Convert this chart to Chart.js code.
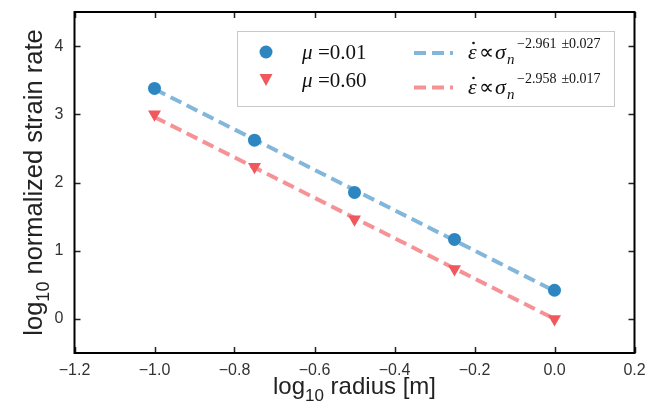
<!DOCTYPE html>
<html>
<head>
<meta charset="utf-8">
<script src="https://cdn.jsdelivr.net/npm/chart.js@4.4.1/dist/chart.umd.min.js"></script>
<style>
  html, body { margin: 0; padding: 0; background: #fff; }
  #wrap { width: 652px; height: 414px; position: relative; }
</style>
</head>
<body>
<div id="wrap"><canvas id="chart"></canvas></div>
<script>
// ===================== DATA =====================
const radius = [-1.0, -0.75, -0.5, -0.25, 0.0];
const rateMu001 = [3.38, 2.62, 1.855, 1.165, 0.42];
const rateMu060 = [3.0, 2.23, 1.46, 0.73, 0.0];

const fitRadius = [-1.0, 0.0];
const fitMu001 = [3.37, 0.41];
const fitMu060 = [2.96, 0.0];

const xTicks = [-1.2, -1.0, -0.8, -0.6, -0.4, -0.2, 0.0, 0.2];
const yTicks = [0, 1, 2, 3, 4];

const seriesLabels = ["μ", "=0.01", "=0.60"];
const fitExponents = [["−2.961", "±0.027"], ["−2.958", "±0.017"]];
const xTitle = ["log", "10", " radius [m]"];
const yTitle = ["log", "10", " normalized strain rate"];

const BLUE = "#2e86c1";
const RED = "#f0585e";
const BLUE_LINE = "rgba(46,134,193,0.6)";
const RED_LINE = "rgba(240,88,94,0.65)";
const DASH = [12, 6];
const SERIF = "'Liberation Serif', 'Times New Roman', serif";

const pts = (xs, ys) => xs.map((x, i) => ({ x, y: ys[i] }));
const fmtX = (v) => (v < 0 ? "\u2212" : "") + Math.abs(v).toFixed(1);

// ===================== HELPERS =====================
function drawSubText(ctx, parts, x, y, size, align) {
  // parts: [main, sub, rest]
  const big = size + "px 'Liberation Sans', Arial, sans-serif";
  const small = Math.round(size * 0.7) + "px 'Liberation Sans', Arial, sans-serif";
  ctx.font = big;
  const w0 = ctx.measureText(parts[0]).width;
  const w2 = ctx.measureText(parts[2]).width;
  ctx.font = small;
  const w1 = ctx.measureText(parts[1]).width;
  let sx = align === "center" ? x - (w0 + w1 + w2) / 2 : x;
  ctx.textAlign = "left";
  ctx.textBaseline = "alphabetic";
  ctx.font = big;
  ctx.fillText(parts[0], sx, y);
  ctx.font = small;
  ctx.fillText(parts[1], sx + w0, y + size * 0.28);
  ctx.font = big;
  ctx.fillText(parts[2], sx + w0 + w1, y);
}

function drawFitLabel(ctx, x, y, exp) {
  ctx.textAlign = "left";
  ctx.textBaseline = "alphabetic";
  ctx.fillStyle = "#111";
  // epsilon with a dot above
  ctx.font = "italic 22px " + SERIF;
  ctx.fillText("ε", x, y);
  ctx.beginPath();
  ctx.arc(x + 5.5, y - 15.5, 1.3, 0, Math.PI * 2);
  ctx.fill();
  // proportional-to sign
  ctx.font = "21px " + SERIF;
  ctx.fillText("∝", x + 11, y);
  // sigma with subscript n
  ctx.font = "italic 22px " + SERIF;
  ctx.fillText("σ", x + 27, y);
  ctx.font = "italic 15px " + SERIF;
  ctx.fillText("n", x + 39, y + 5);
  // exponent
  ctx.font = "14px " + SERIF;
  ctx.fillText(exp[0], x + 49, y - 11);
  const w = ctx.measureText(exp[0]).width;
  ctx.fillText(exp[1], x + 49 + w + 5, y - 11);
}

// ===================== PLUGIN =====================
const decor = {
  id: "decor",
  afterDatasetsDraw(chart) {
    const { ctx, chartArea: a } = chart;
    const xs = chart.scales.x, ys = chart.scales.y;
    ctx.save();
    ctx.strokeStyle = "#222";
    ctx.lineWidth = 1.5;
    ctx.beginPath();
    xTicks.forEach((v) => {
      const px = Math.round(xs.getPixelForValue(v)) + 0.5;
      ctx.moveTo(px, a.bottom); ctx.lineTo(px, a.bottom - 6);
      ctx.moveTo(px, a.top); ctx.lineTo(px, a.top + 6);
    });
    yTicks.forEach((v) => {
      const py = Math.round(ys.getPixelForValue(v)) + 0.5;
      ctx.moveTo(a.left, py); ctx.lineTo(a.left + 6, py);
      ctx.moveTo(a.right, py); ctx.lineTo(a.right - 6, py);
    });
    ctx.stroke();
    ctx.strokeStyle = "#000";
    ctx.lineWidth = 2;
    ctx.strokeRect(a.left, a.top, a.right - a.left, a.bottom - a.top);
    ctx.restore();
  },
  afterDraw(chart) {
    const { ctx, chartArea: a } = chart;
    ctx.save();
    // axis titles
    ctx.fillStyle = "#222";
    drawSubText(ctx, xTitle, (a.left + a.right) / 2, 394, 24, "center");
    ctx.translate(42, (a.top + a.bottom) / 2);
    ctx.rotate(-Math.PI / 2);
    drawSubText(ctx, yTitle, 0, 0, 25.5, "center");
    ctx.restore();

    // legend
    ctx.save();
    ctx.fillStyle = "#fff";
    ctx.fillRect(237, 31, 377, 75);
    ctx.strokeStyle = "#c8c8c8";
    ctx.lineWidth = 1;
    ctx.strokeRect(237.5, 31.5, 377, 75);

    ctx.fillStyle = BLUE;
    ctx.beginPath();
    ctx.arc(266, 52, 6.5, 0, Math.PI * 2);
    ctx.fill();
    ctx.fillStyle = RED;
    ctx.beginPath();
    ctx.moveTo(259.5, 74); ctx.lineTo(272.5, 74); ctx.lineTo(266, 86);
    ctx.closePath();
    ctx.fill();

    ctx.fillStyle = "#111";
    ctx.textAlign = "left";
    ctx.textBaseline = "alphabetic";
    [[58.5, seriesLabels[1]], [86.5, seriesLabels[2]]].forEach(([by, t]) => {
      ctx.font = "italic 21px " + SERIF;
      ctx.fillText(seriesLabels[0], 302, by);
      ctx.font = "21px " + SERIF;
      ctx.fillText(t, 318, by);
    });

    ctx.lineWidth = 4;
    ctx.setLineDash(DASH);
    ctx.strokeStyle = BLUE_LINE;
    ctx.beginPath(); ctx.moveTo(414, 53); ctx.lineTo(453, 53); ctx.stroke();
    ctx.strokeStyle = RED_LINE;
    ctx.beginPath(); ctx.moveTo(414, 87.5); ctx.lineTo(453, 87.5); ctx.stroke();
    ctx.setLineDash([]);

    drawFitLabel(ctx, 468, 58.5, fitExponents[0]);
    drawFitLabel(ctx, 468, 93.5, fitExponents[1]);
    ctx.restore();
  },
};

const noPad = (s) => {
  s.paddingTop = 0; s.paddingBottom = 0; s.paddingLeft = 0; s.paddingRight = 0;
};

// ===================== CHART =====================
new Chart(document.getElementById("chart"), {
  type: "scatter",
  data: {
    datasets: [
      {
        data: pts(radius, rateMu001),
        pointStyle: "circle",
        pointRadius: 6.5,
        backgroundColor: BLUE,
        borderWidth: 0,
        order: 1,
      },
      {
        data: pts(radius, rateMu060),
        pointStyle: "triangle",
        pointRotation: 180,
        pointRadius: 7.5,
        backgroundColor: RED,
        borderWidth: 0,
        order: 1,
      },
      {
        type: "line",
        data: pts(fitRadius, fitMu001),
        borderColor: BLUE_LINE,
        borderWidth: 4,
        borderDash: DASH,
        pointRadius: 0,
        fill: false,
        order: 2,
      },
      {
        type: "line",
        data: pts(fitRadius, fitMu060),
        borderColor: RED_LINE,
        borderWidth: 4,
        borderDash: DASH,
        pointRadius: 0,
        fill: false,
        order: 2,
      },
    ],
  },
  options: {
    responsive: true,
    maintainAspectRatio: false,
    animation: false,
    layout: { padding: { left: 0, right: 17.5, top: 12, bottom: 0 } },
    plugins: { legend: { display: false }, tooltip: { enabled: false } },
    scales: {
      x: {
        type: "linear",
        min: -1.2,
        max: 0.2,
        afterBuildTicks: (s) => { s.ticks = xTicks.map((v) => ({ value: v })); },
        afterFit: (s) => { s.height = 61; noPad(s); },
        grid: { display: false, drawTicks: false },
        border: { display: false },
        ticks: {
          padding: 8,
          color: "#333",
          font: { family: "'Liberation Sans', Arial, sans-serif", size: 16 },
          callback: (v) => fmtX(v),
          maxRotation: 0,
        },
      },
      y: {
        type: "linear",
        min: -0.5,
        max: 4.5,
        afterBuildTicks: (s) => { s.ticks = yTicks.map((v) => ({ value: v })); },
        afterFit: (s) => { s.width = 74.5; noPad(s); },
        grid: { display: false, drawTicks: false },
        border: { display: false },
        ticks: {
          padding: 11,
          color: "#333",
          font: { family: "'Liberation Sans', Arial, sans-serif", size: 16 },
          callback: (v) => String(v),
        },
      },
    },
  },
  plugins: [decor],
});
</script>
</body>
</html>
